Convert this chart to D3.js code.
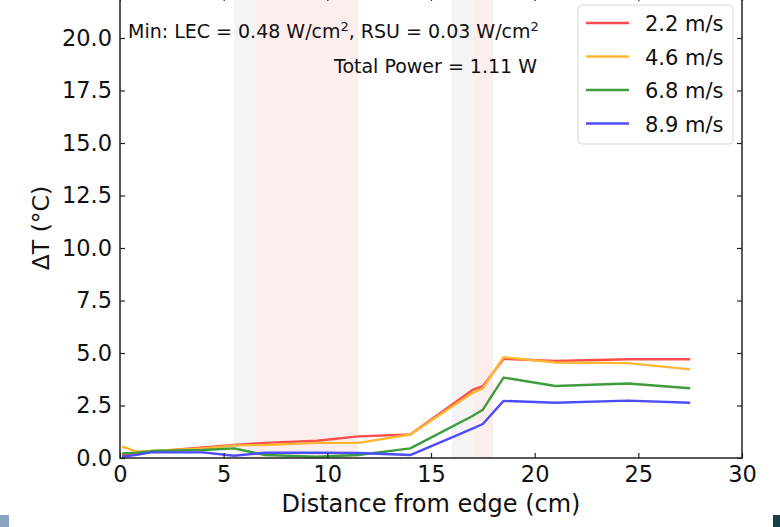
<!DOCTYPE html>
<html>
<head>
<meta charset="utf-8">
<script src="https://cdn.jsdelivr.net/npm/d3@7"></script>
<style>
  html, body { margin: 0; padding: 0; background: #fff; }
  svg { display: block; }
  text { font-family: "DejaVu Sans", sans-serif; fill: #111; }
</style>
</head>
<body>
<svg id="chart" width="780" height="527"></svg>
<script>
// ---- data ----
const xPositions = [0.1, 0.8, 1.5, 4, 5.5, 7, 9.5, 11.5, 14, 17, 17.5, 18.5, 21, 24.5, 27.5];
const seriesNames = ["2.2 m/s", "4.6 m/s", "6.8 m/s", "8.9 m/s"];
const seriesColors = ["#ff4d4d", "#ffb733", "#3d9d3d", "#4d4dff"];
const v22 = [0.12, 0.25, 0.30, 0.50, 0.62, 0.72, 0.82, 1.03, 1.12, 3.24, 3.42, 4.72, 4.62, 4.70, 4.70];
const v46 = [0.55, 0.30, 0.33, 0.45, 0.60, 0.62, 0.72, 0.72, 1.12, 3.10, 3.32, 4.80, 4.55, 4.52, 4.22];
const v68 = [0.22, 0.25, 0.33, 0.38, 0.46, 0.14, 0.06, 0.14, 0.46, 2.00, 2.30, 3.83, 3.43, 3.55, 3.32];
const v89 = [0.06, 0.15, 0.27, 0.27, 0.11, 0.25, 0.25, 0.24, 0.14, 1.40, 1.62, 2.72, 2.63, 2.73, 2.63];
const seriesValues = [v22, v46, v68, v89];
const grayBands = [[5.5, 6.5], [16, 17]];
const pinkBands = [[6.5, 11.5], [17, 18]];
const xTicks = [0, 5, 10, 15, 20, 25, 30];
const yTicks = [0, 2.5, 5, 7.5, 10, 12.5, 15, 17.5, 20];
const xDomain = [0, 30];
const yDomain = [0, 22];
const annot1 = ["Min: LEC = 0.48 W/cm", "2", ", RSU = 0.03 W/cm", "2"];
const annot2 = "Total Power = 1.11 W";

// ---- layout ----
const svg = d3.select("#chart");
const L = 120, R = 742, T = -4, B = 458;
const x = d3.scaleLinear().domain(xDomain).range([L, R]);
const y = d3.scaleLinear().domain(yDomain).range([B, T]);

// corner decorations
svg.append("rect").attr("x", 0).attr("y", 515).attr("width", 9).attr("height", 12).attr("fill", "#8ba4bf");
svg.append("rect").attr("x", 773).attr("y", 515).attr("width", 7).attr("height", 12).attr("fill", "#17404f");

// bands
svg.selectAll(".gb").data(grayBands).enter().append("rect")
  .attr("x", d => x(d[0])).attr("width", d => x(d[1]) - x(d[0]))
  .attr("y", T).attr("height", B - T).attr("fill", "#f4f4f4");
svg.selectAll(".pb").data(pinkBands).enter().append("rect")
  .attr("x", d => x(d[0])).attr("width", d => x(d[1]) - x(d[0]))
  .attr("y", T).attr("height", B - T).attr("fill", "#fdeeee");

// lines
const line = d3.line().x((d, i) => x(xPositions[i])).y(d => y(d));
seriesValues.forEach((vals, k) => {
  svg.append("path").datum(vals)
    .attr("d", line).attr("fill", "none")
    .attr("stroke", seriesColors[k]).attr("stroke-width", 2.4)
    .attr("stroke-linejoin", "round");
});

// axes (ticks inward)
const fs = 22.5;
const axB = svg.append("g").attr("transform", `translate(0,${B})`)
  .call(d3.axisBottom(x).tickValues(xTicks).tickSizeInner(-5).tickSizeOuter(0).tickPadding(8).tickFormat(d3.format("d")));
const axL = svg.append("g").attr("transform", `translate(${L},0)`)
  .call(d3.axisLeft(y).tickValues(yTicks).tickSizeInner(-5).tickSizeOuter(0).tickPadding(8).tickFormat(d3.format(".1f")));
const axT = svg.append("g").attr("transform", `translate(0,${T})`)
  .call(d3.axisTop(x).tickValues(xTicks).tickSizeInner(-5).tickSizeOuter(0).tickFormat(""));
const axR = svg.append("g").attr("transform", `translate(${R},0)`)
  .call(d3.axisRight(y).tickValues(yTicks).tickSizeInner(-5).tickSizeOuter(0).tickFormat(""));
[axB, axL, axT, axR].forEach(g => {
  g.select(".domain").remove();
  g.selectAll(".tick line").attr("stroke", "#222").attr("stroke-width", 1.2);
  g.selectAll("text").attr("font-size", fs).attr("font-family", "DejaVu Sans, sans-serif").attr("fill", "#111");
});
svg.append("rect").attr("x", L).attr("y", T).attr("width", R - L).attr("height", B - T)
  .attr("fill", "none").attr("stroke", "#222").attr("stroke-width", 1.5);

// axis labels
svg.append("text").attr("x", 431).attr("y", 512).attr("text-anchor", "middle")
  .attr("font-size", 24).text("Distance from edge (cm)");
svg.append("text").attr("transform", `translate(49,228) rotate(-90)`).attr("text-anchor", "middle")
  .attr("font-size", 23.5).text("ΔT (°C)");

// annotations
const t1 = svg.append("text").attr("x", 128).attr("y", 38).attr("font-size", 19);
t1.append("tspan").text(annot1[0]);
t1.append("tspan").attr("dy", -7).attr("font-size", 13).text(annot1[1]);
t1.append("tspan").attr("dy", 7).text(annot1[2]);
t1.append("tspan").attr("dy", -7).attr("font-size", 13).text(annot1[3]);
svg.append("text").attr("x", 537).attr("y", 73).attr("text-anchor", "end").attr("font-size", 19).text(annot2);

// legend
const lg = svg.append("g");
lg.append("rect").attr("x", 578).attr("y", 5).attr("width", 155).attr("height", 139)
  .attr("rx", 4).attr("fill", "#fff").attr("fill-opacity", 0.9).attr("stroke", "#d6d6d6");
seriesNames.forEach((n, k) => {
  const yy = 23 + k * 33.5;
  lg.append("line").attr("x1", 586).attr("x2", 629).attr("y1", yy).attr("y2", yy)
    .attr("stroke", seriesColors[k]).attr("stroke-width", 2.4);
  lg.append("text").attr("x", 645).attr("y", yy + 8).attr("font-size", 21).text(n);
});
</script>
</body>
</html>
